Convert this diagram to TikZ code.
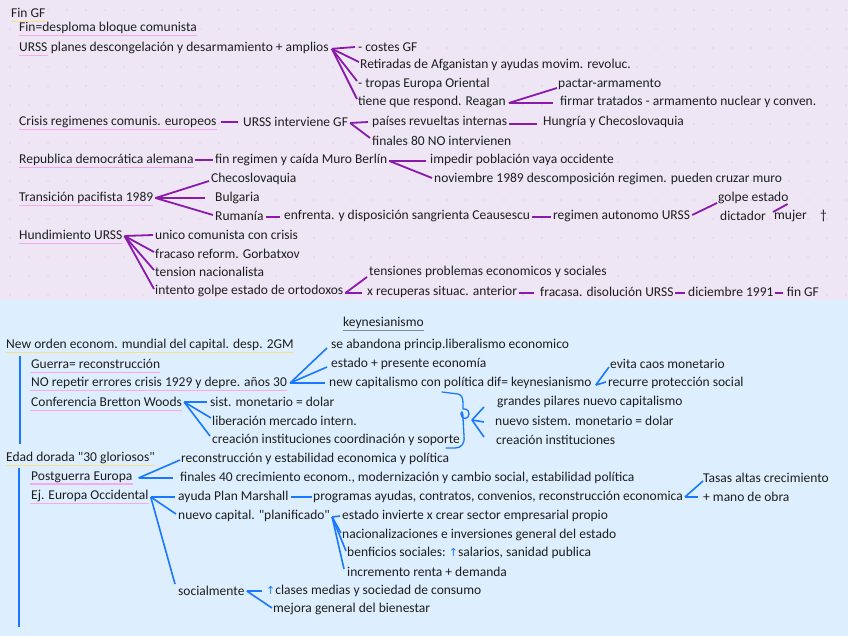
\documentclass[tikz,border=0pt]{standalone}
\usepackage{fontspec}
\setmainfont{Carlito}[Ligatures=TeXOff]
\newfontfamily\symf{DejaVu Sans}
\usetikzlibrary{calc}
\definecolor{bgtop}{HTML}{EEE6F5}
\definecolor{bgbot}{HTML}{DDEEFE}
\definecolor{pur}{HTML}{8A1AAA}
\definecolor{blu}{HTML}{1A78FF}
\definecolor{pinkul}{HTML}{F7A8EE}
\definecolor{yelul}{HTML}{F8DF8C}
\definecolor{greyul}{HTML}{8A8A8A}
\definecolor{txt}{HTML}{1E1E1E}
\definecolor{dotc}{HTML}{C9BFD8}
\newcommand{\upar}{{\color{blu}\symf\fontsize{11}{11}\selectfont ↑}}
\begin{document}
\begin{tikzpicture}[x=1pt,y=-1pt,
  t/.style={anchor=west, inner sep=0pt, text=txt, font=\fontsize{13.5}{14}\selectfont},
  pl/.style={draw=pur, line width=1.8pt},
  bl/.style={draw=blu, line width=1.6pt},
  ulp/.style={draw=pinkul, line width=1.4pt},
  uly/.style={draw=yelul, line width=1.4pt},
  ulg/.style={draw=greyul, line width=0.9pt}]
\useasboundingbox (0,0) rectangle (848,636);
\fill[bgtop] (0,0) rectangle (848,300);
\fill[bgbot] (0,300) rectangle (848,636);
\foreach \i in {0,...,44} {\foreach \j in {0,...,15} {\fill[dotc] (10+19*\i,10+19*\j) circle (0.7);}}

% ---------- top part ----------
\node[t] (fingf) at (11,13) {Fin GF};
\node[t] (findes) at (19,28) {Fin=desploma bloque comunista};
\node[t] (urss) at (19,47) {URSS};
\node[t,anchor=base west] (planes) at (urss.base east) {\ planes descongelación y desarmamiento + amplios};
\node[t] (costes) at (358,47) {- costes GF};
\node[t] (retir) at (360,65) {Retiradas de Afganistan y ayudas movim. revoluc.};
\node[t] (tropas) at (358,84) {- tropas Europa Oriental};
\node[t] (reagan) at (358,102) {tiene que respond. Reagan};
\node[t] (pactar) at (558,84) {pactar-armamento};
\node[t] (firmar) at (560,102) {firmar tratados - armamento nuclear y conven.};
\node[t] (crisis) at (19,122) {Crisis regimenes comunis. europeos};
\node[t] (interv) at (243,122) {URSS interviene GF};
\node[t] (paises) at (372,122) {países revueltas internas};
\node[t] (hung) at (543,122) {Hungría y Checoslovaquia};
\node[t] (fin80) at (372,141) {finales 80 NO intervienen};
\node[t] (rda) at (19,160) {Republica democrática alemana};
\node[t] (muro) at (215,160) {fin regimen y caída Muro Berlín};
\node[t] (impedir) at (430,160) {impedir población vaya occidente};
\node[t] (nov) at (434,179) {noviembre 1989 descomposición regimen. pueden cruzar muro};
\node[t] (trans) at (19,198) {Transición pacifista 1989};
\node[t] (checo) at (211,179) {Checoslovaquia};
\node[t] (bulg) at (215,198) {Bulgaria};
\node[t] (ruman) at (215,216) {Rumanía};
\node[t] (enfr) at (284,216) {enfrenta. y disposición sangrienta Ceausescu};
\node[t] (autono) at (553,216) {regimen autonomo URSS};
\node[t] (golpe) at (718,198) {golpe estado};
\node[t] (dict) at (720,216) {dictador};
\node[t] (mujer) at (774,216) {mujer\hspace{1.0em}†};
\node[t] (hund) at (19,235) {Hundimiento URSS};
\node[t] (unico) at (155,235) {unico comunista con crisis};
\node[t] (fracaso) at (155,254) {fracaso reform. Gorbatxov};
\node[t] (tension) at (155,272) {tension nacionalista};
\node[t] (intento) at (155,291) {intento golpe estado de ortodoxos};
\node[t] (tensiones) at (369,272) {tensiones problemas economicos y sociales};
\node[t] (recup) at (367,292) {x recuperas situac. anterior};
\node[t] (fracasa) at (540,292) {fracasa. disolución URSS};
\node[t] (dic91) at (688,292) {diciembre 1991};
\node[t] (fingf2) at ($(dic91.east)+(13,0)$) {fin GF};

% underlines top
\draw[uly] ($(fingf.base west)+(0,4)$) -- ($(fingf.base east)+(0,4)$);
\foreach \n in {findes,urss,crisis,rda,trans,hund}
  {\draw[ulp] ($(\n.base west)+(0,4)$) -- ($(\n.base east)+(0,4)$);}

% connectors top
\coordinate (v1) at ($(planes.east)+(3,1)$);
\draw[pl] (v1) -- ($(costes.west)+(-3,0)$);
\draw[pl] (v1) -- ($(retir.west)+(-1,-3)$);
\draw[pl] (v1) -- ($(tropas.west)+(-1,-3)$);
\draw[pl] (v1) -- ($(reagan.west)+(-1,-3)$);
\coordinate (v2) at ($(reagan.east)+(3,1)$);
\draw[pl] (v2) -- ($(pactar.west)+(-1,4)$);
\draw[pl] (v2) -- ($(firmar.west)+(-7,1)$);
\draw[pl] ($(crisis.east)+(4,0)$) -- ($(interv.west)+(-5,0)$);
\coordinate (v3) at ($(interv.east)+(2,1)$);
\draw[pl] (v3) -- ($(paises.west)+(-4,0)$);
\draw[pl] (v3) -- ($(fin80.west)+(-2,-3)$);
\draw[pl] ($(paises.east)+(2,2)$) -- ($(hung.west)+(-6,2)$);
\draw[pl] ($(rda.east)+(1,0)$) -- ($(muro.west)+(-2,0)$);
\coordinate (v4) at ($(muro.east)+(2,1)$);
\draw[pl] (v4) -- ($(impedir.west)+(-4,1)$);
\draw[pl] (v4) -- ($(nov.west)+(-2,-1)$);
\coordinate (v5) at ($(trans.east)+(2,0)$);
\draw[pl] (v5) -- ($(checo.west)+(-2,2)$);
\draw[pl] (v5) -- ($(bulg.west)+(-10,0)$);
\draw[pl] (v5) -- ($(ruman.west)+(-2,-1)$);
\draw[pl] ($(ruman.east)+(2,1)$) -- ($(enfr.west)+(-4,1)$);
\draw[pl] ($(enfr.east)+(2,1)$) -- ($(autono.west)+(-2,1)$);
\draw[pl] ($(autono.east)+(2,-1)$) -- ($(golpe.west)+(-1,5)$);
\draw[pl] ($(mujer.west)+(-1,-4)$) -- ($(golpe.east)+(-1,6)$);
\coordinate (v6) at ($(hund.east)+(2,1)$);
\draw[pl] (v6) -- ($(unico.west)+(-2,0)$);
\draw[pl] (v6) -- ($(fracaso.west)+(-1,-2)$);
\draw[pl] (v6) -- ($(tension.west)+(-1,-2)$);
\draw[pl] (v6) -- ($(intento.west)+(-1,-2)$);
\coordinate (v7) at ($(intento.east)+(2,2)$);
\draw[pl] (v7) -- ($(tensiones.west)+(-2,5)$);
\draw[pl] (v7) -- ($(recup.west)+(-5,1)$);
\draw[pl] ($(recup.east)+(2,1)$) -- ($(fracasa.west)+(-6,1)$);
\draw[pl] ($(fracasa.east)+(1,1)$) -- ($(dic91.west)+(-3,1)$);
\draw[pl] ($(dic91.east)+(1,1)$) -- ($(fingf2.west)+(-4,1)$);

% ---------- bottom part ----------
\node[t] (keyt) at (343,323) {keynesianismo};
\node[t] (neworden) at (6,345) {New orden econom. mundial del capital. desp. 2GM};
\node[t] (guerra) at (31,364) {Guerra= reconstrucción};
\node[t] (norep) at (31,383) {NO repetir errores crisis 1929 y depre. años 30};
\node[t] (abandona) at (331,345) {se abandona princip.liberalismo economico};
\node[t] (estado) at (331,364) {estado + presente economía};
\node[t] (newcap) at (329,383) {new capitalismo con política dif= keynesianismo};
\node[t] (evita) at (610,364) {evita caos monetario};
\node[t] (recurre) at (608,383) {recurre protección social};
\node[t] (bretton) at (31,402) {Conferencia Bretton Woods};
\node[t] (sist) at (210,402) {sist. monetario = dolar};
\node[t] (liber) at (212,421) {liberación mercado intern.};
\node[t] (creac) at (212,440) {creación instituciones coordinación y soporte};
\node[t] (grandes) at (497,402) {grandes pilares nuevo capitalismo};
\node[t] (nuevosist) at (495,421) {nuevo sistem. monetario = dolar};
\node[t] (creacinst) at (496,440) {creación instituciones};
\node[t] (edad) at (6,458) {Edad dorada "30 gloriosos"};
\node[t] (recons) at (181,459) {reconstrucción y estabilidad economica y política};
\node[t] (postg) at (31,477) {Postguerra Europa};
\node[t] (fin40) at (180,478) {finales 40 crecimiento econom., modernización y cambio social, estabilidad política};
\node[t] (ejeu) at (31,496) {Ej. Europa Occidental};
\node[t] (ayuda) at (178,497) {ayuda Plan Marshall};
\node[t] (program) at (313,497) {programas ayudas, contratos, convenios, reconstrucción economica};
\node[t] (tasas) at (703,478) {Tasas altas crecimiento};
\node[t] (mano) at (703,497) {+ mano de obra};
\node[t] (planif) at (178,516) {nuevo capital. "planificado"};
\node[t] (invierte) at (342,516) {estado invierte x crear sector empresarial propio};
\node[t] (nacion) at (342,535) {nacionalizaciones e inversiones general del estado};
\node[t] (benef) at (347,553) {benficios sociales:\ \upar salarios, sanidad publica};
\node[t] (increm) at (347,572) {incremento renta + demanda};
\node[t] (social) at (178,591) {socialmente};
\node[t] (clases) at (266,591) {\upar clases medias y sociedad de consumo};
\node[t] (mejora) at (273,609) {mejora general del bienestar};

% underlines bottom
\draw[ulg] ($(keyt.base west)+(0,4)$) -- ($(keyt.base east)+(0,4)$);
\foreach \n in {neworden,edad}
  {\draw[uly] ($(\n.base west)+(0,4)$) -- ($(\n.base east)+(0,4)$);}
\foreach \n in {guerra,norep,bretton,postg,ejeu}
  {\draw[ulp] ($(\n.base west)+(-1,4)$) -- ($(\n.base east)+(0,4)$);}

% vertical lines
\coordinate (vt1) at (20,356); \coordinate (vb1) at (20,444);
\coordinate (vt2) at (19,468); \coordinate (vb2) at (19,627);
\draw[bl] (vt1) -- (vb1);
\draw[bl] (vt2) -- (vb2);

% connectors bottom
\coordinate (v8) at ($(norep.east)+(3,0)$);
\draw[bl] (v8) -- ($(abandona.west)+(-4,3)$);
\draw[bl] (v8) -- ($(estado.west)+(-4,3)$);
\draw[bl] (v8) -- ($(newcap.west)+(-4,0)$);
\coordinate (v9) at ($(newcap.east)+(4,2)$);
\draw[bl] (v9) -- ($(evita.west)+(-1,3)$);
\draw[bl] (v9) -- ($(recurre.west)+(-2,-1)$);
\coordinate (v10) at ($(bretton.east)+(2,0)$);
\draw[bl] (v10) -- ($(sist.west)+(-3,0)$);
\draw[bl] (v10) -- ($(liber.west)+(-1,-3)$);
\draw[bl] (v10) -- ($(creac.west)+(-2,-4)$);
% curly brace with loop
\draw[draw=blu, line width=1.3pt, line cap=round, line join=round]
  (442,392) -- (458,394) .. controls (462,395) and (463,398) .. (463,404) -- (463,409)
  .. controls (463,409) and (469,408) .. (469,414) .. controls (469,420) and (461,420) .. (461,414)
  .. controls (461,411) and (463,410) .. (463,418) -- (464,436)
  .. controls (465,444) and (461,448) .. (455,448) -- (446,448);
\coordinate (v11) at (472,420);
\draw[bl] (v11) -- ($(grandes.west)+(-13,5)$);
\draw[bl] (v11) -- ($(nuevosist.west)+(-11,1)$);
\draw[bl] (v11) -- ($(creacinst.west)+(-12,-3)$);
\coordinate (v12) at ($(postg.east)+(6,1)$);
\draw[bl] (v12) -- ($(recons.west)+(-1,1)$);
\draw[bl] (v12) -- ($(fin40.west)+(-7,0)$);
\coordinate (v13) at ($(ejeu.east)+(2,1)$);
\draw[bl] (v13) -- ($(ayuda.west)+(-3,0)$);
\draw[bl] (v13) -- ($(planif.west)+(-2,-2)$);
\draw[bl] (v13) -- ($(social.west)+(-3,-7)$);
\draw[bl] ($(ayuda.east)+(2,0)$) -- ($(program.west)+(-1,0)$);
\coordinate (v14) at ($(program.east)+(2,0)$);
\draw[bl] (v14) -- ($(tasas.west)+(0,3)$);
\draw[bl] (v14) -- ($(mano.west)+(-5,0)$);
\coordinate (v15) at ($(planif.east)+(2,1)$);
\draw[bl] (v15) -- ($(invierte.west)+(-2,0)$);
\draw[bl] (v15) -- ($(nacion.west)+(-1,-2)$);
\draw[bl] (v15) -- ($(benef.west)+(-1,-2)$);
\draw[bl] (v15) -- ($(increm.west)+(-3,-3)$);
\coordinate (v16) at ($(social.east)+(2,0)$);
\draw[bl] (v16) -- ($(clases.west)+(-4,0)$);
\draw[bl] (v16) -- ($(mejora.west)+(-1,-1)$);
\end{tikzpicture}
\end{document}
